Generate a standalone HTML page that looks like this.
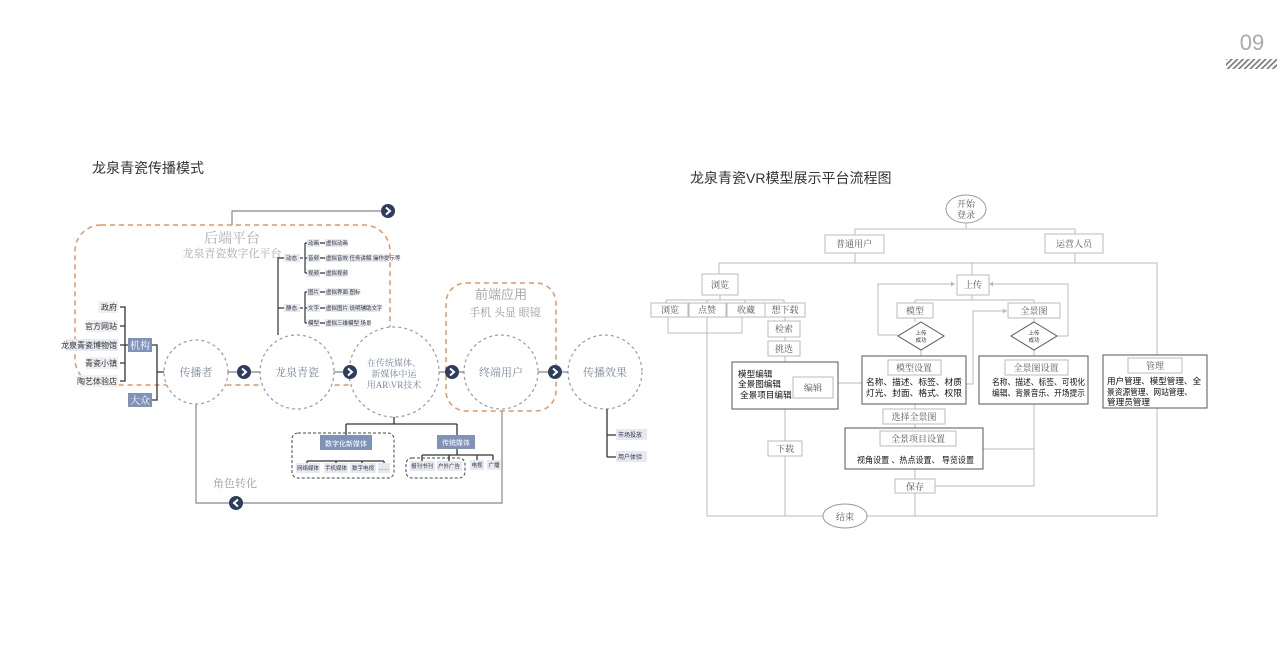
<!DOCTYPE html>
<html><head><meta charset="utf-8"><style>
html,body{margin:0;padding:0;background:#fff;}
svg{display:block;}
.s{font-family:"Liberation Serif","Noto Serif CJK SC",serif;}
.a{font-family:"Liberation Sans","Noto Sans CJK SC",sans-serif;}
</style></head><body>
<svg width="1280" height="660" viewBox="0 0 1280 660" xmlns="http://www.w3.org/2000/svg">
<defs>
<pattern id="h" width="4" height="4" patternUnits="userSpaceOnUse" patternTransform="rotate(45)">
<rect width="4" height="4" fill="#fff"/><rect width="1.6" height="4" fill="#777"/></pattern>
<g id="arr"><circle r="7" fill="#2c3e5c"/><path d="M-2,-3.5 L2,0 L-2,3.5" stroke="#fff" stroke-width="2" fill="none"/></g>
<g id="arl"><circle r="7" fill="#2c3e5c"/><path d="M2,-3.5 L-2,0 L2,3.5" stroke="#fff" stroke-width="2" fill="none"/></g>
</defs>

<text x="1252" y="50" text-anchor="middle" class="a" font-size="22" fill="#aaa">09</text>
<rect x="1226" y="59" width="51" height="10" fill="url(#h)"/>

<text x="92" y="173" class="a" font-size="14" fill="#333">龙泉青瓷传播模式</text>

<g stroke="#888" stroke-width="1.2" fill="none">
<path d="M232,225 V211 H395"/>
<path d="M196,404 V503 H502 V411"/>
</g>
<use href="#arr" x="388" y="211"/>
<use href="#arl" x="236" y="503"/>

<rect x="75" y="225" width="315" height="160" rx="26" fill="none" stroke="#e8955a" stroke-width="1.5" stroke-dasharray="5,4"/>
<text x="232" y="243" text-anchor="middle" class="s" font-size="14" fill="#aaa">后端平台</text>
<text x="232" y="257" text-anchor="middle" class="s" font-size="11" fill="#aaa">龙泉青瓷数字化平台</text>

<g stroke="#333" stroke-width="1.2" fill="none">
<path d="M278,335 V258 H285"/><path d="M278,308 H285"/>
<path d="M300,258 H303"/><path d="M305,243 V273"/><path d="M305,243 H308 M305,258 H308 M305,273 H308"/>
<path d="M300,308 H303"/><path d="M305,292 V323"/><path d="M305,292 H308 M305,308 H308 M305,323 H308"/>
<path d="M320,243 H325 M320,258 H325 M320,273 H325 M320,292 H325 M320,308 H325 M320,323 H325"/>
</g>
<g class="a" font-size="5.5" fill="#334">
<rect x="284" y="254" width="16" height="8" fill="#e6e9f0"/><text x="286" y="260">动态</text>
<rect x="284" y="304" width="16" height="8" fill="#e6e9f0"/><text x="286" y="310">静态</text>
<rect x="307" y="239" width="13" height="8" fill="#e6e9f0"/><text x="308" y="245">动画</text>
<rect x="307" y="254" width="13" height="8" fill="#e6e9f0"/><text x="308" y="260">音频</text>
<rect x="307" y="269" width="13" height="8" fill="#e6e9f0"/><text x="308" y="275">视频</text>
<rect x="307" y="288" width="13" height="8" fill="#e6e9f0"/><text x="308" y="294">图片</text>
<rect x="307" y="304" width="13" height="8" fill="#e6e9f0"/><text x="308" y="310">文字</text>
<rect x="307" y="319" width="13" height="8" fill="#e6e9f0"/><text x="308" y="325">模型</text>
<rect x="325" y="239" width="22" height="8" fill="#e6e9f0"/><text x="326" y="245">虚拟动画</text>
<rect x="325" y="254" width="62" height="8" fill="#e6e9f0"/><text x="326" y="260">虚拟音效 任务讲解 操作提示等</text>
<rect x="325" y="269" width="22" height="8" fill="#e6e9f0"/><text x="326" y="275">虚拟视频</text>
<rect x="325" y="288" width="32" height="8" fill="#e6e9f0"/><text x="326" y="294">虚拟界面 图标</text>
<rect x="325" y="304" width="55" height="8" fill="#e6e9f0"/><text x="326" y="310">虚拟图片 说明辅助文字</text>
<rect x="325" y="319" width="40" height="8" fill="#e6e9f0"/><text x="326" y="325">虚拟三维模型 场景</text>
</g>

<g class="a" font-size="8" fill="#333" text-anchor="end">
<rect x="98" y="301" width="20" height="12" fill="#eef0f4"/><text x="117" y="310">政府</text>
<rect x="86" y="320" width="32" height="12" fill="#eef0f4"/><text x="117" y="329">官方网站</text>
<rect x="66" y="339" width="52" height="12" fill="#e6eaf2"/><text x="117" y="348">龙泉青瓷博物馆</text>
<rect x="86" y="357" width="32" height="12" fill="#eef0f4"/><text x="117" y="366">青瓷小镇</text>
<rect x="80" y="375" width="38" height="12" fill="#eef0f4"/><text x="117" y="384">陶艺体验店</text>
</g>
<g stroke="#333" stroke-width="1.3" fill="none">
<path d="M120,307 H125 V381 H120 M120,326 H125 M120,345 H128 M120,363 H125"/>
<path d="M152,345 H157 V400 H152 M157,372 H164"/>
</g>
<rect x="128" y="338" width="24" height="14" fill="#7f93b8"/><text x="140" y="349" text-anchor="middle" class="s" font-size="10" fill="#fff">机构</text>
<rect x="128" y="393" width="24" height="14" fill="#7f93b8"/><text x="140" y="404" text-anchor="middle" class="s" font-size="10" fill="#fff">大众</text>

<g fill="#fff" stroke="#99a" stroke-width="1.2" stroke-dasharray="3,3">
<circle cx="196" cy="372" r="32"/>
<circle cx="297" cy="372" r="37"/>
<circle cx="394" cy="372" r="45"/>
<circle cx="501" cy="372" r="37"/>
<circle cx="605" cy="372" r="37"/>
</g>
<g stroke="#666" stroke-width="1">
<path d="M228,372 H260 M334,372 H349 M439,372 H464 M538,372 H568"/>
</g>
<rect x="446" y="283" width="110" height="128" rx="20" fill="none" stroke="#e8955a" stroke-width="1.5" stroke-dasharray="5,4"/>
<text x="501" y="299" text-anchor="middle" class="a" font-size="13" fill="#aaa">前端应用</text>
<text x="505" y="316" text-anchor="middle" class="s" font-size="11" fill="#999">手机 头显 眼镜</text>
<use href="#arr" x="244" y="372"/><use href="#arr" x="350" y="372"/>
<use href="#arr" x="452" y="372"/><use href="#arr" x="555" y="372"/>
<g class="s" fill="#7a86a0" text-anchor="middle">
<text x="196" y="376" font-size="11">传播者</text>
<text x="297" y="376" font-size="11">龙泉青瓷</text>
<text x="394" y="366" font-size="9">在传统媒体、</text>
<text x="394" y="377" font-size="9">新媒体中运</text>
<text x="394" y="388" font-size="9">用AR\VR技术</text>
<text x="501" y="376" font-size="11">终端用户</text>
<text x="605" y="376" font-size="11">传播效果</text>
</g>

<g stroke="#333" stroke-width="1.3" fill="none">
<path d="M394,417 V424 M346,424 H457 M346,424 V435 M457,424 V435"/>
<path d="M307,461 V465 M336,461 V465 M362,461 V465 M384,461 V465 M307,461 H384"/>
<path d="M422,455 H493 M422,455 V461 M449,455 V461 M477,455 V461 M493,455 V461 M457,449 V455"/>
</g>
<rect x="292" y="433" width="102" height="45" rx="6" fill="none" stroke="#444" stroke-dasharray="3,2"/>
<rect x="406" y="458" width="59" height="20" rx="6" fill="none" stroke="#444" stroke-dasharray="3,2"/>
<rect x="320" y="435" width="52" height="15" fill="#7f93b8"/><text x="346" y="446" text-anchor="middle" class="a" font-size="7" fill="#fff">数字化新媒体</text>
<rect x="437" y="435" width="38" height="14" fill="#7f93b8"/><text x="456" y="445" text-anchor="middle" class="a" font-size="7" fill="#fff">传统媒体</text>
<g class="a" font-size="5.5" fill="#334" text-anchor="middle">
<rect x="296" y="463" width="24" height="10" fill="#e6e9f0"/><text x="308" y="470">网络媒体</text>
<rect x="324" y="463" width="24" height="10" fill="#e6e9f0"/><text x="336" y="470">手机媒体</text>
<rect x="350" y="463" width="26" height="10" fill="#e6e9f0"/><text x="363" y="470">数字电视</text>
<rect x="378" y="463" width="12" height="10" fill="#e6e9f0"/><text x="384" y="470">……</text>
<rect x="410" y="461" width="25" height="10" fill="#e6e9f0"/><text x="422" y="468">报刊书刊</text>
<rect x="437" y="461" width="25" height="10" fill="#e6e9f0"/><text x="449" y="468">户外广告</text>
<rect x="470" y="460" width="14" height="10" fill="#e6e9f0"/><text x="477" y="467">电视</text>
<rect x="487" y="460" width="14" height="10" fill="#e6e9f0"/><text x="494" y="467">广播</text>
</g>
<text x="235" y="487" text-anchor="middle" class="s" font-size="11" fill="#999">角色转化</text>

<path d="M607,409 V457 M607,435 H616 M607,457 H616" stroke="#333" stroke-width="1.3" fill="none"/>
<g class="a" font-size="6" fill="#334">
<rect x="616" y="429" width="31" height="11" fill="#e6e9f0"/><text x="618" y="437">市场投放</text>
<rect x="616" y="451" width="31" height="11" fill="#e6e9f0"/><text x="618" y="459">用户体验</text>
</g>

<!-- RIGHT FLOWCHART -->
<text x="690" y="183" class="a" font-size="14" fill="#333">龙泉青瓷VR模型展示平台流程图</text>
<g stroke="#bbb" stroke-width="1" fill="none">
<path d="M966,223 V229 M855,229 H1075 M855,229 V235 M1075,229 V234"/>
<path d="M855,253 V263 M1075,253 V263 M719,263 H1157 V355 M719,263 V274 M972,263 V275"/>
<path d="M720,295 V300 M666,300 H784 M666,300 V303 M707,300 V303 M745,300 V303 M784,300 V303"/>
<path d="M668,317 V333 M742,317 V333 M668,333 H742 M707,317 V516"/>
<path d="M785,317 V321 M785,337 V341 M785,356 V362 M785,409 V516"/>
<path d="M707,516 H823 M867,516 H1157 V408"/>
<path d="M838,383 H862"/>
<path d="M878,335 V284 H955 M1068,336 V284 H989"/>
<path d="M972,295 V300 M915,300 H1034 M915,300 V303 M1034,300 V303"/>
<path d="M915,318 V322 M1034,318 V322 M921,350 V356 M1034,350 V356"/>
<path d="M878,335 H898 M1068,336 H1057"/>
<path d="M966,384 H973 V311 H1007"/>
<path d="M915,404 V409 M915,424 V428 M915,469 V479 M915,493 V516"/>
<path d="M1034,404 V486 H935 M983,449 H1034"/>
</g>
<g fill="#bbb"><path d="M955,284 l-4,-2.5 v5z"/><path d="M989,284 l4,-2.5 v5z"/><path d="M1007,311 l-4,-2.5 v5z"/></g>

<ellipse cx="966" cy="209" rx="20" ry="14" fill="#fff" stroke="#999"/>
<ellipse cx="845" cy="516" rx="22" ry="12" fill="#fff" stroke="#999"/>
<g fill="#fff" stroke="#bbb">
<rect x="825" y="235" width="59" height="18"/><rect x="1045" y="234" width="58" height="19"/>
<rect x="702" y="274" width="36" height="21"/><rect x="957" y="275" width="32" height="20"/>
<rect x="651" y="303" width="37" height="14"/><rect x="689" y="303" width="37" height="14"/>
<rect x="727" y="303" width="38" height="14"/><rect x="765" y="303" width="40" height="14"/>
<rect x="768" y="321" width="32" height="16"/><rect x="768" y="341" width="32" height="15"/>
<rect x="768" y="441" width="34" height="15"/>
<rect x="897" y="303" width="36" height="15"/><rect x="1008" y="303" width="52" height="15"/>
<rect x="883" y="409" width="62" height="15"/><rect x="895" y="479" width="40" height="14"/>
</g>
<g fill="#fff" stroke="#555">
<rect x="732" y="362" width="106" height="47"/>
<rect x="862" y="356" width="104" height="48"/>
<rect x="979" y="356" width="109" height="48"/>
<rect x="1103" y="355" width="104" height="53"/>
<rect x="845" y="428" width="138" height="41"/>
<path d="M921,322 L944,336 L921,350 L898,336Z"/>
<path d="M1034,322 L1057,336 L1034,350 L1011,336Z"/>
</g>
<g fill="#fff" stroke="#bbb">
<rect x="793" y="377" width="40" height="21"/><rect x="888" y="360" width="53" height="15"/>
<rect x="1005" y="360" width="63" height="15"/><rect x="1128" y="358" width="54" height="15"/>
<rect x="880" y="431" width="76" height="15"/>
</g>
<g class="s" fill="#555" text-anchor="middle" font-size="9">
<text x="966" y="207">开始</text><text x="966" y="218">登录</text>
<text x="845" y="520">结束</text>
<text x="854" y="247">普通用户</text><text x="1074" y="247">运营人员</text>
<text x="720" y="288">浏览</text><text x="973" y="288">上传</text>
<text x="670" y="313">浏览</text><text x="707" y="313">点赞</text>
<text x="746" y="313">收藏</text><text x="785" y="313">想下载</text>
<text x="784" y="332">检索</text><text x="784" y="352">挑选</text>
<text x="785" y="452">下载</text><text x="813" y="391">编辑</text>
<text x="915" y="314">模型</text><text x="1034" y="314">全景图</text>
<text x="914" y="371">模型设置</text><text x="1036" y="371">全景图设置</text>
<text x="1155" y="369">管理</text><text x="918" y="442">全景项目设置</text>
<text x="914" y="420">选择全景图</text><text x="915" y="490">保存</text>
</g>
<g class="a" fill="#333" text-anchor="middle" font-size="5.5">
<text x="921" y="335">上传</text><text x="921" y="342">成功</text>
<text x="1034" y="335">上传</text><text x="1034" y="342">成功</text>
</g>
<g class="a" fill="#111" font-size="8.6">
<text x="738" y="377">模型编辑</text><text x="738" y="387">全景图编辑</text><text x="740" y="398">全景项目编辑</text>
<text x="866" y="385" textLength="96" lengthAdjust="spacingAndGlyphs">名称、描述、标签、材质</text><text x="866" y="396" textLength="96" lengthAdjust="spacingAndGlyphs">灯光、封面、格式、权限</text>
<text x="992" y="385" textLength="93" lengthAdjust="spacingAndGlyphs">名称、描述、标签、可视化</text><text x="992" y="396" textLength="93" lengthAdjust="spacingAndGlyphs">编辑、背景音乐、开场提示</text>
<text x="1107" y="384" textLength="94" lengthAdjust="spacingAndGlyphs">用户管理、模型管理、全</text><text x="1107" y="395" textLength="85" lengthAdjust="spacingAndGlyphs">景资源管理、网站管理、</text><text x="1107" y="405">管理员管理</text>
<text x="857" y="463" textLength="117" lengthAdjust="spacingAndGlyphs">视角设置 、热点设置、 导览设置</text>
</g>
</svg>
</body></html>
